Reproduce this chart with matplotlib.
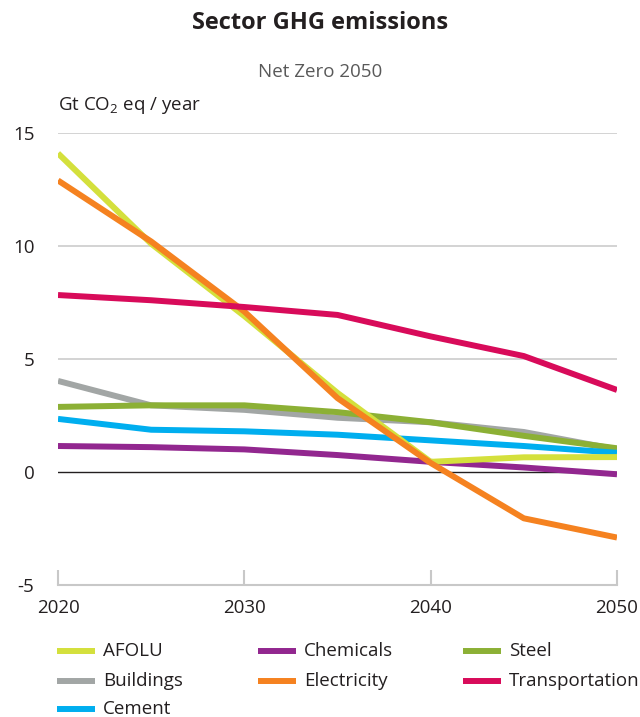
import matplotlib.pyplot as plt
from matplotlib.lines import Line2D

plt.rcParams['font.family'] = ['Open Sans', 'DejaVu Sans']
plt.rcParams['mathtext.fontset'] = 'custom'
plt.rcParams['mathtext.rm'] = 'Open Sans'
plt.rcParams['axes.unicode_minus'] = False

years = [2020, 2025, 2030, 2035, 2040, 2045, 2050]

afolu = [14.1, 10.1, 6.9, 3.5, 0.45, 0.65, 0.66]
buildings = [4.03, 2.95, 2.75, 2.4, 2.2, 1.77, 1.0]
cement = [2.35, 1.87, 1.8, 1.65, 1.4, 1.15, 0.85]
chemicals = [1.15, 1.1, 1.0, 0.75, 0.45, 0.2, -0.1]
electricity = [12.9, 10.2, 7.1, 3.27, 0.4, -2.05, -2.9]
steel = [2.88, 2.95, 2.95, 2.65, 2.2, 1.6, 1.05]
transportation = [7.83, 7.6, 7.3, 6.95, 6.0, 5.13, 3.63]

series = [
    ('AFOLU', afolu, '#d4e03c'),
    ('Buildings', buildings, '#a2a6a5'),
    ('Cement', cement, '#00aeef'),
    ('Chemicals', chemicals, '#92278f'),
    ('Electricity', electricity, '#f58220'),
    ('Steel', steel, '#8cb035'),
    ('Transportation', transportation, '#d80b5a'),
]
# drawing order (later = on top)
draw_order = ['Buildings', 'Steel', 'Cement', 'Chemicals', 'AFOLU', 'Electricity', 'Transportation']

fig = plt.figure(figsize=(6.4, 7.17), dpi=100)
ax = fig.add_axes([58/640, 132/717, 559/640, 452/717])

for g in [5, 10, 15]:
    ax.axhline(g, color='#cccccc', lw=1.2, zorder=1)
ax.axhline(0, color='#231f20', lw=1.0, zorder=1)

lookup = {name: (vals, col) for name, vals, col in series}
for i, name in enumerate(draw_order):
    vals, col = lookup[name]
    ax.plot(years, vals, color=col, lw=4.3, solid_capstyle='butt', zorder=2 + i)

ax.set_xlim(2020, 2050)
ax.set_ylim(-5, 15)
ax.set_xticks([2020, 2030, 2040, 2050])
ax.set_yticks([-5, 0, 5, 10, 15])
for s in ['top', 'right', 'left']:
    ax.spines[s].set_visible(False)
ax.spines['bottom'].set_color('#c8c8c8')
ax.spines['bottom'].set_linewidth(1.5)
ax.tick_params(axis='x', direction='in', length=10.5, width=1.5, color='#c8c8c8',
               labelsize=13.5, pad=10, labelcolor='#231f20')
ax.tick_params(axis='y', length=0, labelsize=13.5, pad=17, labelcolor='#231f20')

fig.text(0.5, 0.968, 'Sector GHG emissions', ha='center', va='center',
         fontsize=17, fontweight='bold', color='#231f20')
fig.text(0.5, 0.899, 'Net Zero 2050', ha='center', va='center',
         fontsize=13.5, color='#595959')
fig.text(58/640, 1 - 105/717, 'Gt CO$_2$ eq / year', ha='left', va='center',
         fontsize=13.5, color='#231f20')

# legend, three columns
col_x = [57, 258, 463]
row_y = [651, 681, 709]
slots = [(0, 0), (0, 1), (0, 2), (1, 0), (1, 1), (2, 0), (2, 1)]
for (name, vals, col), (c, r) in zip(series, slots):
    x0 = col_x[c] / 640
    y0 = 1 - row_y[r] / 717
    fig.add_artist(Line2D([x0, x0 + 38/640], [y0, y0], color=col, lw=4.3,
                          solid_capstyle='butt', transform=fig.transFigure))
    fig.text(x0 + 46/640, y0, name, ha='left', va='center', fontsize=13.5,
             color='#231f20')

fig.savefig('out.png', dpi=100)
